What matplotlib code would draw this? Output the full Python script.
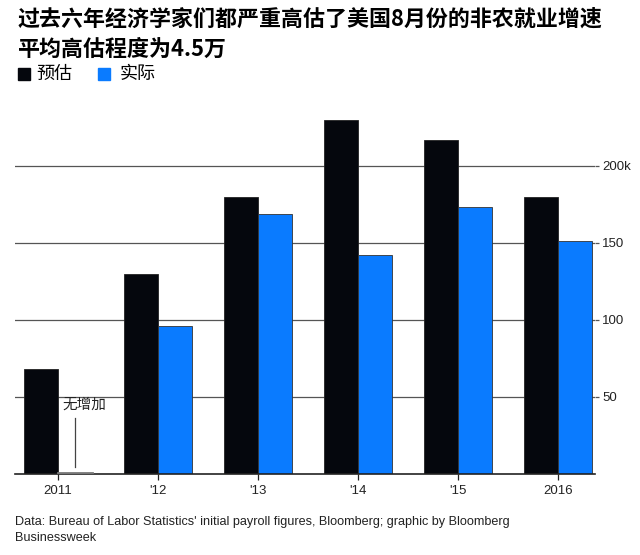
import numpy as np
import matplotlib
matplotlib.use("Agg")
import matplotlib.pyplot as plt
from matplotlib.patches import Rectangle

plt.rcParams['font.family'] = ['Liberation Sans', 'Noto Sans CJK SC', 'DejaVu Sans']

# ---- data (thousands of jobs, August nonfarm payrolls) ----
years = ["2011", "'12", "'13", "'14", "'15", "2016"]
estimate = [68, 130, 180, 230, 217, 180]
actual = [0, 96, 169, 142, 173, 151]
y_ticks = [50, 100, 150, 200]
y_tick_labels = ["50", "100", "150", "200k"]

black = "#05070d"
blue = "#0a7bff"

fig = plt.figure(figsize=(6.4, 5.55), dpi=100)
ax = fig.add_axes([0.0234, 0.146, 0.907, 0.683])

x = np.arange(len(years))
w = 0.34
ax.bar(x - w / 2, estimate, w, color=black, edgecolor="#222222", linewidth=0.6, zorder=3)
ax.bar(x + w / 2, actual, w, color=blue, edgecolor="#333333", linewidth=0.6, zorder=3)

ax.set_xlim(-0.43, 5.37)
ax.set_ylim(0, 246)

# gridlines + right ticks
ax.yaxis.tick_right()
ax.set_yticks(y_ticks)
ax.set_yticklabels(y_tick_labels, fontsize=9.5, color="#222222")
ax.grid(axis="y", color="#555555", linewidth=0.9, zorder=1)
ax.tick_params(axis="y", length=3, width=0.9, color="#555555", pad=2)

ax.set_xticks(x)
ax.set_xticklabels(years, fontsize=9.5, color="#222222")
ax.tick_params(axis="x", length=4, width=0.9, color="#222222", pad=4)

for s in ["top", "left", "right"]:
    ax.spines[s].set_visible(False)
ax.spines["bottom"].set_color("#222222")
ax.spines["bottom"].set_linewidth(1.2)
ax.spines["bottom"].set_zorder(4)

# annotation for 2011 actual
ax.text(0.04, 45, "无增加", fontsize=10.5, color="#222222", va="center", ha="left",
        family=['Noto Sans CJK SC'], zorder=5)
ax.plot([w / 2, w / 2], [4.5, 36], color="#444444", linewidth=0.9, zorder=5)
ax.plot([0, w], [0.6, 0.6], color="#777777", linewidth=2, zorder=5)

# title
fig.text(0.028, 0.965, "过去六年经济学家们都严重高估了美国8月份的非农就业增速",
         fontsize=15.8, fontweight="bold", va="center", ha="left",
         family=['Noto Sans CJK SC'])
fig.text(0.028, 0.911, "平均高估程度为4.5万",
         fontsize=15.8, fontweight="bold", va="center", ha="left",
         family=['Noto Sans CJK SC'])

# legend
fig.patches.append(Rectangle((18 / 640, 1 - 80 / 555), 12 / 640, 12 / 555,
                             transform=fig.transFigure, color=black))
fig.text(36 / 640, 1 - 74 / 555, "预估", fontsize=13, va="center", ha="left",
         family=['Noto Sans CJK SC'])
fig.patches.append(Rectangle((98 / 640, 1 - 80 / 555), 12 / 640, 12 / 555,
                             transform=fig.transFigure, color=blue))
fig.text(120 / 640, 1 - 74 / 555, "实际", fontsize=13, va="center", ha="left",
         family=['Noto Sans CJK SC'])

# source
fig.text(15 / 640, 1 - 522 / 555,
         "Data: Bureau of Labor Statistics' initial payroll figures, Bloomberg; graphic by Bloomberg",
         fontsize=9.1, color="#222222", va="center", ha="left")
fig.text(15 / 640, 1 - 538 / 555, "Businessweek",
         fontsize=9.1, color="#222222", va="center", ha="left")

fig.savefig("out.png", dpi=100)
